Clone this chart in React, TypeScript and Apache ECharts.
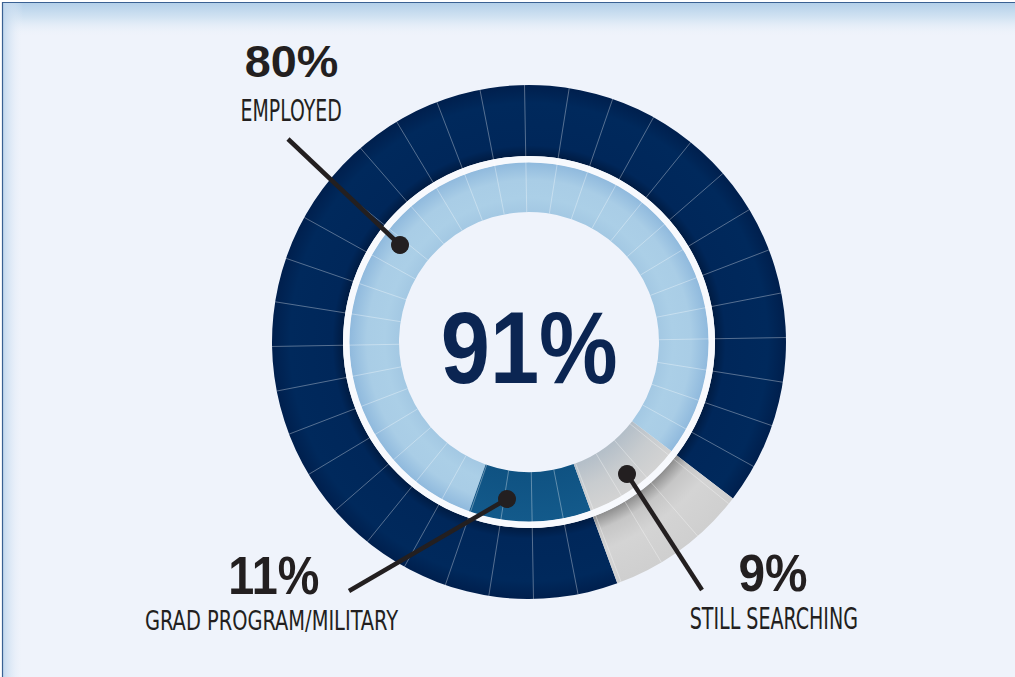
import React, { useEffect, useRef } from 'react';
import * as echarts from 'echarts';

// ---- data ----
const categories = ['Employed', 'Grad Program/Military', 'Still Searching'];
const values = [80, 11, 9];
const valueLabels = ['80%', '11%', '9%'];
const captions = ['EMPLOYED', 'GRAD PROGRAM/MILITARY', 'STILL SEARCHING'];
const totalLabel = '91%';

// ---- layout ----
const W = 1015;
const H = 677;
const CX = 529;
const CY = 342;
const START = -37.5;

const BOLD = '"Liberation Sans", Arial, sans-serif';
const NARROW = '"Liberation Sans Narrow", "DejaVu Sans Condensed", "Liberation Sans", sans-serif';
const INK = '#231f20';

function rad(stops: [number, string][], r: number) {
  return {
    type: 'radial',
    x: CX,
    y: CY,
    r,
    global: true,
    colorStops: stops.map(([offset, color]) => ({ offset, color })),
  } as any;
}

function fitText(
  text: string,
  family: string,
  weight: string,
  cx: number,
  cy: number,
  inkW: number,
  inkH: number,
  fill: string,
  z: number
) {
  const cv = document.createElement('canvas');
  const ctx = cv.getContext('2d')!;
  ctx.font = `${weight} 100px ${family}`;
  ctx.textBaseline = 'alphabetic';
  ctx.textAlign = 'left';
  const m = ctx.measureText(text);
  const asc = m.actualBoundingBoxAscent;
  const desc = m.actualBoundingBoxDescent;
  const fs = (100 * inkH) / (asc + desc);
  const k = fs / 100;
  const abl = m.actualBoundingBoxLeft * k;
  const abr = m.actualBoundingBoxRight * k;
  const fA = ((m as any).fontBoundingBoxAscent ?? 90.5) * k;
  const fD = ((m as any).fontBoundingBoxDescent ?? 21.2) * k;
  const scaleX = inkW / (abl + abr);
  const x0 = -(abr - abl) / 2;
  const central = (fA - fD) / 2;
  const y = cy - central - (desc * k - asc * k) / 2;
  return {
    type: 'text',
    x: cx,
    y: 0,
    scaleX,
    scaleY: 1,
    z,
    silent: true,
    style: {
      text,
      x: x0,
      y,
      fill,
      fontSize: fs,
      fontFamily: family,
      fontWeight: weight,
      textAlign: 'left',
      textVerticalAlign: 'middle',
      align: 'left',
      verticalAlign: 'middle',
    },
  };
}

function callout(dot: [number, number], end: [number, number]) {
  return [
    {
      type: 'line',
      z: 100,
      silent: true,
      shape: { x1: dot[0], y1: dot[1], x2: end[0], y2: end[1] },
      style: { stroke: INK, lineWidth: 4.5 },
    },
    {
      type: 'circle',
      z: 101,
      silent: true,
      shape: { cx: dot[0], cy: dot[1], r: 9 },
      style: { fill: INK },
    },
  ];
}

export default function App() {
  const ref = useRef<HTMLDivElement>(null);

  useEffect(() => {
    document.body.style.margin = '0';
    const chart = echarts.init(ref.current!, undefined, { renderer: 'svg' });

    const outerR = 257;
    const innerR = 180;

    const employedPlusGrad = values[0] + values[1];

    const outerData = [
      {
        name: categories[0] + ' + ' + categories[1],
        value: employedPlusGrad,
        itemStyle: {
          color: rad(
            [
              [0.72, '#001a40'],
              [0.765, '#00275a'],
              [0.93, '#00295c'],
              [1, '#001f4d'],
            ],
            outerR
          ),
        },
      },
      {
        name: categories[2],
        value: values[2],
        itemStyle: {
          color: rad(
            [
              [0.72, '#8a8a8a'],
              [0.78, '#c6c6c6'],
              [0.86, '#d4d4d4'],
              [1, '#cfcfcf'],
            ],
            outerR
          ),
        },
      },
    ];

    const innerColors = [
      rad(
        [
          [0.72, '#a3c8e3'],
          [0.8, '#abcfe7'],
          [0.9, '#a9cde6'],
          [1, '#8fb9dd'],
        ],
        innerR
      ),
      rad(
        [
          [0.72, '#0f5282'],
          [1, '#135a8b'],
        ],
        innerR
      ),
      rad(
        [
          [0.72, '#b3bec8'],
          [0.86, '#c8cccf'],
          [1, '#d3d3d3'],
        ],
        innerR
      ),
    ];

    const innerData = categories.map((name, i) => ({
      name,
      value: values[i],
      itemStyle: { color: innerColors[i] },
    }));

    const pieCommon = {
      type: 'pie',
      center: [CX, CY],
      startAngle: START,
      clockwise: false,
      silent: true,
      avoidLabelOverlap: false,
      label: { show: false },
      labelLine: { show: false },
      emphasis: { disabled: true },
      itemStyle: { borderWidth: 0 },
      z: 2,
    };

    const graphics: any[] = [
      // top band & frame
      {
        type: 'rect',
        z: 0,
        silent: true,
        shape: { x: 3, y: 3, width: W - 3, height: 34 },
        style: {
          fill: {
            type: 'linear',
            x: 0,
            y: 0,
            x2: 0,
            y2: 1,
            colorStops: [
              { offset: 0, color: '#b3d0e9' },
              { offset: 0.45, color: '#d4e4f3' },
              { offset: 1, color: 'rgba(239,243,251,0)' },
            ],
          },
        },
      },
      {
        type: 'rect',
        z: 0,
        silent: true,
        shape: { x: 3, y: 3, width: 20, height: H - 3 },
        style: {
          fill: {
            type: 'linear',
            x: 0,
            y: 0,
            x2: 1,
            y2: 0,
            colorStops: [
              { offset: 0, color: 'rgba(190,214,237,0.9)' },
              { offset: 1, color: 'rgba(239,243,251,0)' },
            ],
          },
        },
      },
      { type: 'rect', z: 1, silent: true, shape: { x: 0, y: 0, width: W, height: 2 }, style: { fill: '#ffffff' } },
      { type: 'rect', z: 1, silent: true, shape: { x: 0, y: 0, width: 2, height: H }, style: { fill: '#ffffff' } },
      {
        type: 'line',
        z: 1,
        silent: true,
        shape: { x1: 2, y1: 2.5, x2: W, y2: 2.5 },
        style: { stroke: '#3a6193', lineWidth: 1.2 },
      },
      {
        type: 'line',
        z: 1,
        silent: true,
        shape: { x1: 2.5, y1: 2, x2: 2.5, y2: H },
        style: { stroke: '#3a6193', lineWidth: 1.2 },
      },
      // separating white ring
      {
        type: 'ring',
        z: 3,
        silent: true,
        shape: { cx: CX, cy: CY, r: 186, r0: 179.5 },
        style: { fill: '#f7f9fd' },
      },
      ...callout([400, 245], [288, 139]),
      ...callout([507, 499], [349, 591]),
      ...callout([627, 474], [702, 590]),
      fitText(totalLabel, BOLD, 'bold', 529.7, 347.8, 172.7, 72.5, '#0b2552', 50),
      fitText(valueLabels[0], BOLD, 'bold', 291.7, 62.5, 91.3, 31.6, INK, 50),
      fitText(captions[0], NARROW, 'normal', 291.5, 109.5, 98.5, 22.4, INK, 50),
      fitText(valueLabels[1], BOLD, 'bold', 274.7, 576, 87.3, 38.3, INK, 50),
      fitText(captions[1], NARROW, 'normal', 272.2, 621.7, 252.3, 22, INK, 50),
      fitText(valueLabels[2], BOLD, 'bold', 773.3, 573.4, 66.7, 36.7, INK, 50),
      fitText(captions[2], NARROW, 'normal', 773.7, 618, 166, 22.6, INK, 50),
    ];

    chart.setOption({
      animation: false,
      backgroundColor: 'transparent',
      polar: { center: [CX, CY], radius: [130, outerR] },
      angleAxis: {
        type: 'value',
        min: 0,
        max: 360,
        interval: 10,
        startAngle: 1,
        z: 10,
        axisLine: { show: false },
        axisTick: { show: false },
        axisLabel: { show: false },
        splitLine: { show: true, lineStyle: { color: 'rgba(255,255,255,0.42)', width: 0.8 } },
      },
      radiusAxis: {
        type: 'value',
        min: 0,
        max: 1,
        show: false,
        axisLine: { show: false },
        axisTick: { show: false },
        axisLabel: { show: false },
        splitLine: { show: false },
      },
      graphic: { elements: graphics },
      series: [
        { ...pieCommon, name: 'outer', radius: [186, outerR], data: outerData },
        { ...pieCommon, name: 'inner', radius: [130, innerR], data: innerData },
        { type: 'line', coordinateSystem: 'polar', data: [], silent: true },
      ],
    } as any);

    return () => chart.dispose();
  }, []);

  return <div ref={ref} style={{ width: W, height: H, background: '#eff3fb' }} />;
}
